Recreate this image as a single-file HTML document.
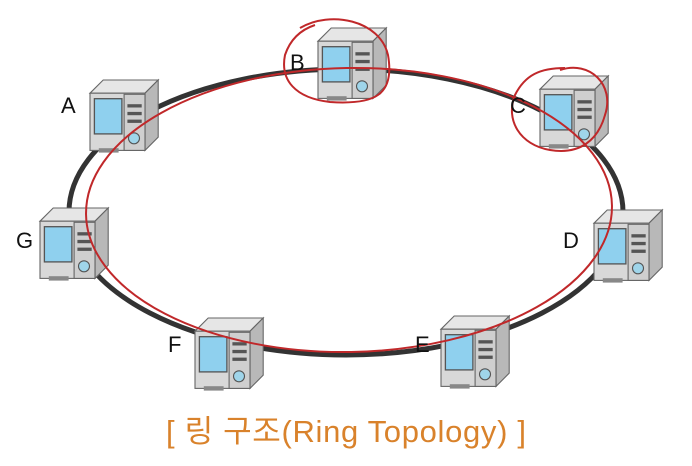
<html><body style="margin:0;background:#fff">
<svg width="692" height="466" viewBox="0 0 692 466" xmlns="http://www.w3.org/2000/svg">
<defs>
<g id="pc">
<polygon points="0,12 12,0 62,0 50,12" fill="#e6e6e6" stroke="#666" stroke-width="1"/>
<polygon points="50,12 62,0 62,52 50,64" fill="#b8b8b8" stroke="#666" stroke-width="1"/>
<rect x="0" y="12" width="50" height="52" fill="#d8d8d8" stroke="#666" stroke-width="1"/>
<rect x="4" y="17" width="25" height="32" fill="#8fd0ee" stroke="#555" stroke-width="1.2"/>
<rect x="31" y="13" width="19" height="51" fill="#cfcfcf" stroke="#666" stroke-width="1"/>
<rect x="34" y="22" width="13" height="3" fill="#555"/>
<rect x="34" y="29" width="13" height="3" fill="#555"/>
<rect x="34" y="36" width="13" height="3" fill="#555"/>
<circle cx="40" cy="53" r="5" fill="#9fd5ea" stroke="#555"/>
<rect x="8" y="62" width="18" height="4" fill="#888"/>
</g>
</defs>
<ellipse cx="346" cy="212" rx="277" ry="143" fill="none" stroke="#333" stroke-width="5"/>
<use href="#pc" transform="translate(90,80) scale(1.1)"/>
<use href="#pc" transform="translate(318,28) scale(1.1)"/>
<use href="#pc" transform="translate(540,76) scale(1.1)"/>
<use href="#pc" transform="translate(594,210) scale(1.1)"/>
<use href="#pc" transform="translate(40,208) scale(1.1)"/>
<use href="#pc" transform="translate(195,318) scale(1.1)"/>
<use href="#pc" transform="translate(441,316) scale(1.1)"/>
<ellipse cx="349" cy="210" rx="263" ry="142" fill="none" stroke="#c0282a" stroke-width="2" transform="rotate(-1 349 210)"/>
<path d="M300,28 C330,10 380,20 388,55 C395,95 375,105 330,102 C295,98 280,80 285,55 C290,40 300,30 315,25" fill="none" stroke="#c0282a" stroke-width="2"/>
<path d="M560,70 C590,60 615,85 605,115 C598,140 580,155 550,150 C520,145 505,120 515,95 C525,75 540,68 565,68" fill="none" stroke="#c0282a" stroke-width="2"/>
<g font-family="Liberation Sans, sans-serif" font-size="22" fill="#111">
<text x="61" y="113">A</text><text x="290" y="70">B</text><text x="510" y="113">C</text>
<text x="563" y="248">D</text><text x="16" y="248">G</text><text x="168" y="352">F</text><text x="415" y="352">E</text>
</g>
<text x="346" y="442" text-anchor="middle" textLength="360" font-family="Liberation Sans, 'Noto Sans CJK KR', sans-serif" font-size="31" fill="#d9822b">[ 링 구조(Ring Topology) ]</text>
</svg>
</body></html>
